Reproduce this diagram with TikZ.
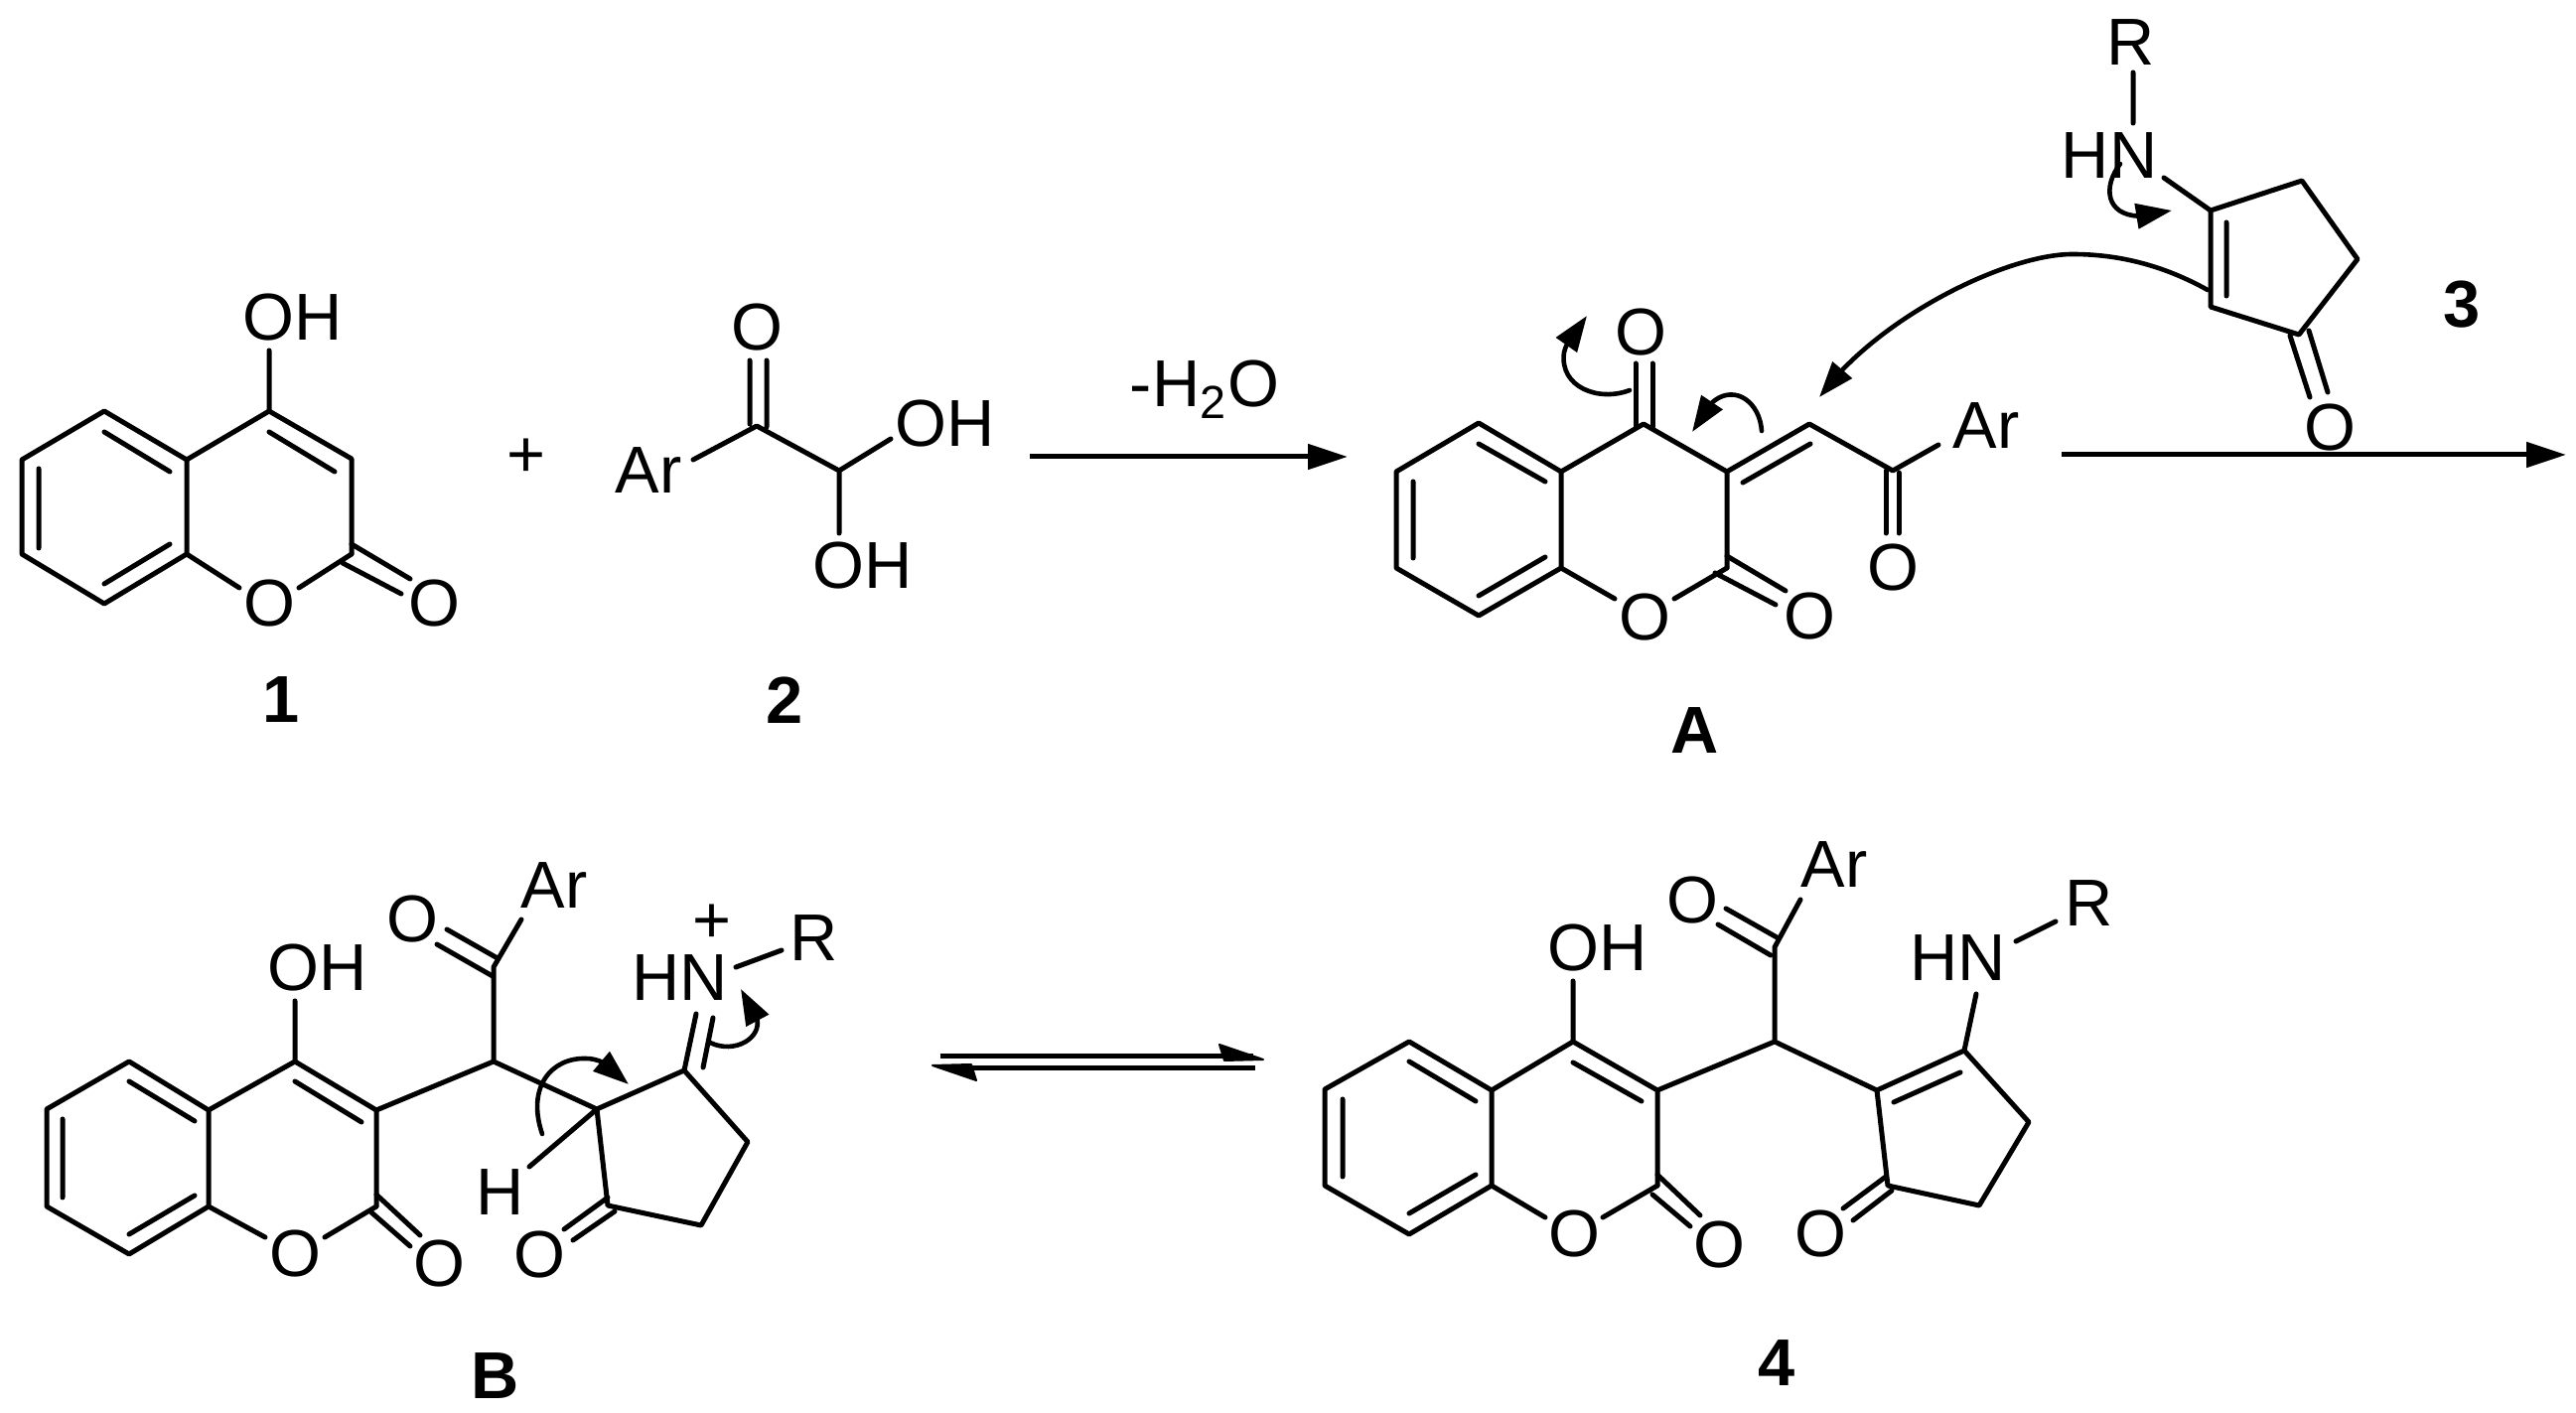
\documentclass[tikz,border=0pt]{standalone}
\usepackage{fontspec}
\setmainfont{Liberation Sans}
\usetikzlibrary{arrows.meta,bending}
\tikzset{
  x=0.1mm,y=-0.1mm,
  bond/.style={draw=black,line width=0.5mm,line cap=round,line join=round},
  atom/.style={inner sep=0pt,outer sep=0pt,font=\fontsize{19}{21}\selectfont,text=black},
  tag/.style={inner sep=0pt,outer sep=0pt,font=\fontsize{19}{21}\selectfont\bfseries,text=black},
  curly/.style={draw=black,line width=0.46mm,line cap=round,-{Triangle[length=3.6mm,width=2.5mm,flex]}},
  longarrow/.style={draw=black,line width=0.5mm,-{Triangle[length=4mm,width=2.5mm]}},
  halfhead/.style={fill=black,draw=black,line width=0.2mm,line join=round},
}
\newcommand{\place}[1]{\foreach \n/\px/\py in {#1} {\coordinate (\n) at (\px,\py);}}
\begin{document}
\begin{tikzpicture}
\useasboundingbox (0,0) rectangle (2594,1423);
\fill[white] (0,0) rectangle (2594,1423);
% ---------- compound 1
\place{a1/105/414,a2/188/463,a3/188/558,a4/105/608,a5/22/558,a6/22/463,
 a7/271/414,a8/354/462,a9/354/558,ai1/105/435,ai2/171/475,ai3/39/472,ai4/39/552,ai5/105/588,ai6/171/548,
 ai7/271/435,ai8/337/475,ao1/241/592,ao2/301/592,ah/271/353,
 ad1/354/548,ad2/413/583,ad3/345/567,ad4/404/598}
\node[atom] (aOH) at (295,320) {OH};
\node[atom] (aO) at (271,608) {O};
\node[atom] (aO2) at (437,608) {O};
\node[tag] (t1) at (283,705) {1};
\draw[bond] (a2)--(a1)--(a6)--(a5)--(a4)--(a3)--(a2)--(a7)--(a8)--(a9);
\draw[bond] (ai1)--(ai2) (ai3)--(ai4) (ai5)--(ai6) (ai7)--(ai8) (ah)--(a7);
\draw[bond] (a3)--(ao1) (ao2)--(a9) (ad1)--(ad2) (ad3)--(ad4);
\node[atom] (plus) at (530,461) {+};
% ---------- compound 2
\place{b1/762/429,b2/845/474,bd1/755/363,bd2/755/427,bd3/772/363,bd4/772/430,bar/698/463,boh1/897/442,boh2/845/537}
\node[atom] (bO) at (762,330) {O};
\node[atom] (bAr) at (653,474) {Ar};
\node[atom] (bOH1) at (952,427) {OH};
\node[atom] (bOH2) at (869,570) {OH};
\node[tag] (t2) at (790,705) {2};
\draw[bond] (bd1)--(bd2) (bd3)--(bd4) (bar)--(b1)--(b2)--(boh1) (b2)--(boh2);
% ---------- arrow 1
\coordinate (r1s) at (1037,460); \coordinate (r1e) at (1357,460);
\draw[longarrow] (r1s)--(r1e);
\node[atom] (water) at (1213,392) {-H\textsubscript{2}O};
% ---------- compound A
\place{c1/1489/426,c2/1572/475,c3/1572/572,c4/1489/620,c5/1406/572,c6/1406/475,
 c7/1655/427,c8/1739/475,c9/1739/572,c10/1822/427,c11/1906/474,
 ci1/1489/447,ci2/1556/485,ci3/1423/485,ci4/1423/562,ci5/1489/600,ci6/1556/561,
 ci7/1823/447,ci8/1755/486,co1/1626/603,co2/1686/603,
 cd1/1739/560,cd2/1798/595,cd3/1727/577,cd4/1788/609,
 ce1/1647/366,ce2/1647/430,ce3/1664/366,ce4/1664/430,
 cf1/1899/474,cf2/1899/537,cf3/1912/476,cf4/1912/537,car/1952/448}
\node[atom] (cOt) at (1652,335) {O};
\node[atom] (cO) at (1656,622) {O};
\node[atom] (cO2) at (1822,621) {O};
\node[atom] (cO3) at (1906,572) {O};
\node[atom] (cAr) at (2000,429) {Ar};
\node[tag] (tA) at (1707,736) {A};
\draw[bond] (c2)--(c1)--(c6)--(c5)--(c4)--(c3)--(c2)--(c7)--(c8)--(c9);
\draw[bond] (c8)--(c10)--(c11)--(car);
\draw[bond] (ci1)--(ci2) (ci3)--(ci4) (ci5)--(ci6) (ci7)--(ci8);
\draw[bond] (c3)--(co1) (co2)--(c9) (cd1)--(cd2) (cd3)--(cd4);
\draw[bond] (ce1)--(ce2) (ce3)--(ce4) (cf1)--(cf2) (cf3)--(cf4);
% A curved arrows
\place{cu1/1641/393,cu2/1575/355,cu3/1598/318,cv1/1774/434,cv2/1727/403,cv3/1704/435}
\draw[curly] (cu1) .. controls (1610,405) and (1570,390) .. (cu2) .. controls (1577,345) and (1585,335) .. (cu3);
\draw[curly] (cv1) .. controls (1772,405) and (1748,388) .. (cv2) .. controls (1718,410) and (1710,420) .. (cv3);
% ---------- compound 3
\place{d1/2226/212,d2/2318/182,d3/2374/261,d4/2315/337,d5/2226/309,di1/2242/224,di2/2242/298,
 dn/2179/179,dr1/2148/73,dr2/2148/124,dd1/2306/338,dd2/2326/400,dd3/2325/333,dd4/2344/395}
\node[atom] (dR) at (2146,43) {R};
\node[atom] (dHN) at (2124,157) {HN};
\node[atom] (dO) at (2346,431) {O};
\node[tag] (t3) at (2479,307) {3};
\draw[bond] (d1)--(d2)--(d3)--(d4)--(d5)--cycle (di1)--(di2) (dn)--(d1) (dr1)--(dr2) (dd1)--(dd2) (dd3)--(dd4);
\place{du1/2135/165,du2/2187/212,dw1/2223/292,dw2/2087/256,dw3/1832/400}
\draw[curly] (du1) .. controls (2112,195) and (2125,232) .. (du2);
\draw[curly] (dw1) .. controls (2180,268) and (2135,256) .. (dw2) .. controls (2020,256) and (1890,320) .. (dw3);
% ---------- arrow 2
\coordinate (r2s) at (2076,458); \coordinate (r2e) at (2584,458);
\draw[longarrow] (r2s)--(r2e);
% ---------- compound B
\place{e1/130/1069,e2/210/1118,e3/210/1215,e4/130/1263,e5/47/1215,e6/47/1117,
 e7/297/1069,e8/379/1118,e9/379/1215,e10/497/1069,e11/601/1117,e12/689/1078,e13/753/1150,e14/706/1234,e15/612/1214,
 e16/497/974,ei1/130/1089,ei2/196/1129,ei3/63/1127,ei4/63/1206,ei5/130/1243,ei6/196/1204,ei7/297/1089,ei8/364/1130,
 eo1/267/1246,eo2/327/1246,ed1/379/1203,ed2/423/1244,ed3/374/1221,ed4/413/1255,eh/297/1008,
 ef1/450/936,ef2/501/965,ef3/440/951,ef4/496/983,ear/525/926,
 en1/701/1021,en2/708/1075,en3/718/1025,er1/741/974,er2/787/957,eh2/533/1175,
 eg1/612/1206,eg2/568/1238,eg3/619/1220,eg4/577/1249}
\node[atom] (eOH) at (320,975) {OH};
\node[atom] (eO) at (297,1263) {O};
\node[atom] (eO2) at (442,1273) {O};
\node[atom] (eO3) at (415,926) {O};
\node[atom] (eAr) at (558,892) {Ar};
\node[atom] (eHN) at (685,985) {HN};
\node[atom] (ep) at (717,930) {+};
\node[atom] (eR) at (820,945) {R};
\node[atom] (eH) at (504,1201) {H};
\node[atom] (eO4) at (543,1264) {O};
\node[tag] (tB) at (499,1386) {B};
\draw[bond] (e2)--(e1)--(e6)--(e5)--(e4)--(e3)--(e2)--(e7)--(e8)--(e9);
\draw[bond] (ei1)--(ei2) (ei3)--(ei4) (ei5)--(ei6) (ei7)--(ei8) (eh)--(e7);
\draw[bond] (e3)--(eo1) (eo2)--(e9) (ed1)--(ed2) (ed3)--(ed4);
\draw[bond] (e8)--(e10)--(e11)--(e12)--(e13)--(e14)--(e15)--(e11) (e10)--(e16)--(ear);
\draw[bond] (ef1)--(ef2) (ef3)--(ef4) (e12)--(en1) (en2)--(en3) (er1)--(er2) (e11)--(eh2) (eg1)--(eg2) (eg3)--(eg4);
\place{eu1/546/1142,eu2/590/1066,eu3/633/1092,ev1/715/1050,ev2/762/1025,ev3/746/996}
\draw[curly] (eu1) .. controls (530,1095) and (555,1065) .. (eu2) .. controls (605,1066) and (620,1075) .. (eu3);
\draw[curly] (ev1) .. controls (740,1062) and (768,1045) .. (ev2) .. controls (760,1015) and (754,1006) .. (ev3);
% ---------- equilibrium arrow
\place{q1/947/1064,q2/1262/1064,q3/1228/1052,q4/1272/1067,q5/1233/1068,
 q6/1264/1076,q7/960/1076,q8/939/1073,q9/978/1072,q10/983/1088}
\draw[draw=black,line width=0.5mm] (q1)--(q2) (q6)--(q7);
\fill[halfhead] (q3)--(q4)--(q5)--cycle (q8)--(q9)--(q10)--cycle;
% ---------- compound 4
\place{f1/1419/1049,f2/1502/1098,f3/1502/1194,f4/1419/1243,f5/1334/1194,f6/1334/1097,
 f7/1584/1049,f8/1669/1098,f9/1669/1194,f10/1787/1049,f11/1890/1098,f12/1978/1058,f13/2043/1130,f14/1993/1214,f15/1901/1194,
 f16/1787/954,fi1/1419/1069,fi2/1486/1109,fi3/1352/1107,fi4/1352/1185,fi5/1419/1222,fi6/1486/1183,fi7/1584/1070,fi8/1653/1109,
 fo1/1556/1226,fo2/1614/1226,fd1/1669/1183,fd2/1712/1224,fd3/1664/1203,fd4/1702/1235,fh/1584/988,
 fe1/1738/915,fe2/1791/945,fe3/1730/931,fe4/1783/962,far/1813/906,
 fc1/1907/1110,fc2/1974/1080,fn/1990/1001,fr1/2030/948,fr2/2070/928,
 fg1/1899/1185,fg2/1856/1217,fg3/1905/1199,fg4/1866/1229}
\node[atom] (fOH) at (1609,955) {OH};
\node[atom] (fO) at (1585,1243) {O};
\node[atom] (fO2) at (1731,1254) {O};
\node[atom] (fO3) at (1704,907) {O};
\node[atom] (fAr) at (1847,871) {Ar};
\node[atom] (fHN) at (1972,965) {HN};
\node[atom] (fR) at (2104,910) {R};
\node[atom] (fO4) at (1833,1243) {O};
\node[tag] (t4) at (1789,1373) {4};
\draw[bond] (f2)--(f1)--(f6)--(f5)--(f4)--(f3)--(f2)--(f7)--(f8)--(f9);
\draw[bond] (fi1)--(fi2) (fi3)--(fi4) (fi5)--(fi6) (fi7)--(fi8) (fh)--(f7);
\draw[bond] (f3)--(fo1) (fo2)--(f9) (fd1)--(fd2) (fd3)--(fd4);
\draw[bond] (f8)--(f10)--(f11)--(f12)--(f13)--(f14)--(f15)--(f11) (f10)--(f16)--(far);
\draw[bond] (fe1)--(fe2) (fe3)--(fe4) (fc1)--(fc2) (f12)--(fn) (fr1)--(fr2) (fg1)--(fg2) (fg3)--(fg4);
\end{tikzpicture}
\end{document}
